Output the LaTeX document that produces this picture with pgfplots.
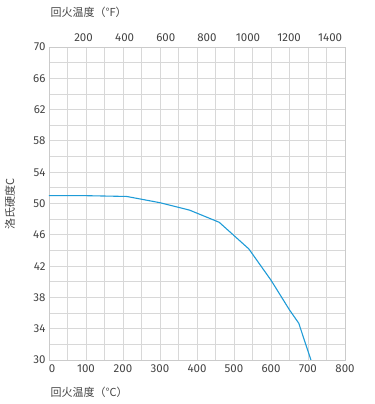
\documentclass[border=0pt]{standalone}
\usepackage{pgfplots}
\pgfplotsset{compat=1.18}
\usepackage{fontspec}
\setmainfont{Fira Sans}
\newfontfamily\cjk{Noto Sans CJK SC}
\definecolor{curve}{HTML}{1E9BD7}
\definecolor{gridc}{HTML}{D8D8D8}
\definecolor{txt}{HTML}{444444}
\pgfplotstableread{
T H
0 51.0
100 51.0
210 50.9
300 50.1
380 49.15
460 47.6
540 44.2
600 40.2
650 36.4
675 34.7
708 30.0
}\datatable
\begin{document}
\begin{tikzpicture}[font=\fontsize{11.5bp}{13bp}\selectfont, text=txt]
\begin{axis}[
  name=main,
  scale only axis, width=296bp, height=313bp,
  xmin=0, xmax=800, ymin=30, ymax=70,
  xtick={0,100,...,800}, minor x tick num=1,
  xticklabels={\hphantom{0}0,100,200,300,400,500,600,700,800},
  ytick={30,34,...,70}, minor y tick num=1,
  grid=both,
  major grid style={gridc, line width=0.8pt},
  minor grid style={gridc, line width=0.8pt},
  axis line style={gridc!85!gray, line width=0.8pt},
  major tick length=0pt, minor tick length=0pt,
  /pgf/number format/assume math mode=true,
  /pgf/number format/1000 sep={},
  ticklabel style={text=txt},
  xticklabel style={yshift=-1bp},
]
\addplot[curve, line width=1.1pt, no marks] table[x=T, y=H] {\datatable};
\coordinate (sw) at (rel axis cs:0,0);
\coordinate (ne) at (rel axis cs:1,1);
\end{axis}
\begin{axis}[
  scale only axis, width=296bp, height=313bp,
  xmin=0, xmax=800, ymin=30, ymax=70,
  axis x line*=top, axis y line=none,
  axis line style={draw=none},
  xtick={93.333,204.444,315.556,426.667,537.778,648.889,760},
  xticklabels={200,400,600,800,1000,1200,1400},
  major tick length=0pt,
  /pgf/number format/assume math mode=true,
  ticklabel style={text=txt},
  xticklabel style={yshift=2bp},
]
\end{axis}
\node[anchor=west, text=txt, font=\fontsize{11bp}{13bp}\selectfont] at ([shift={(-2bp,35bp)}]sw |- ne) {\cjk 回火温度（°F）};
\node[anchor=west, text=txt, font=\fontsize{11bp}{13bp}\selectfont] at ([shift={(-2bp,-32bp)}]sw) {\cjk 回火温度（°C）};
\path (sw) -- (sw |- ne) node[midway, rotate=90, yshift=39bp, text=txt, font=\fontsize{11bp}{13bp}\selectfont] {\cjk 洛氏硬度C};
\pgfresetboundingbox
\useasboundingbox ([shift={(-49bp,-44bp)}]sw) rectangle ([shift={(30bp,47bp)}]ne);
\end{tikzpicture}
\end{document}
